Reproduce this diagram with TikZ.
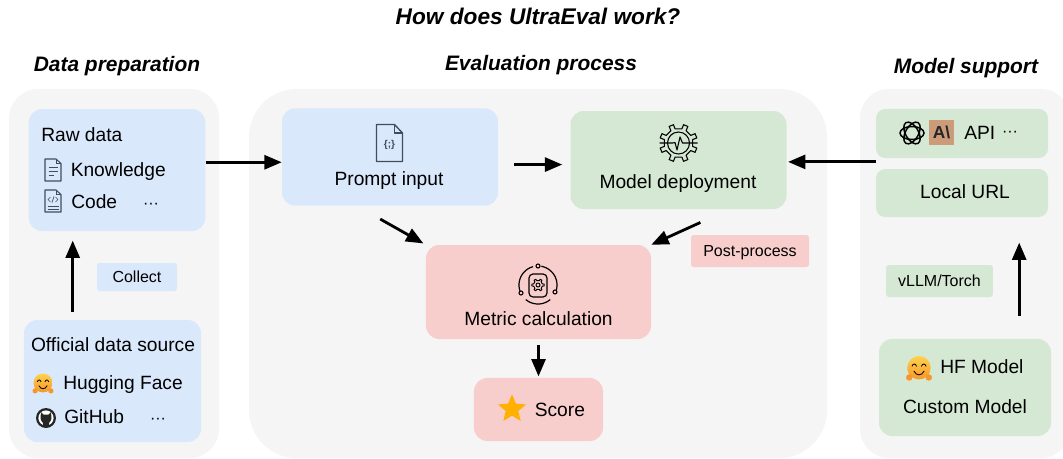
\documentclass[tikz,border=0pt]{standalone}
\usepackage{fontspec}
\setmainfont{Liberation Sans}
\usetikzlibrary{arrows.meta,shapes.geometric}
\definecolor{panelgray}{HTML}{F5F5F5}
\definecolor{boxblue}{HTML}{DAE8FC}
\definecolor{boxgreen}{HTML}{D5E8D4}
\definecolor{boxred}{HTML}{F8CECC}
\definecolor{docslate}{HTML}{3F4D5E}
\definecolor{hugyellow}{HTML}{FFD34E}
\definecolor{hugorange}{HTML}{F7962A}
\definecolor{claudetan}{HTML}{CC9B7A}
\definecolor{staramber}{HTML}{FFB000}
\tikzset{
  panel/.style={fill=panelgray,rounded corners=#1,inner sep=0pt},
  card/.style={rounded corners=10pt,inner sep=0pt},
  tag/.style={rounded corners=2pt,inner sep=0pt,text height=10pt,text depth=1.4pt,font=\fontsize{12}{14}\selectfont},
  label/.style={inner sep=0pt,font=\fontsize{14.4}{17}\selectfont},
  dots/.style={inner sep=0pt,font=\fontsize{12}{14}\selectfont},
  head/.style={inner sep=0pt,font=\fontsize{15.7}{18}\selectfont\bfseries\itshape},
  arr/.style={-{Stealth[length=13pt,width=10.5pt,inset=0pt]},line width=2.1pt},
  hugface/.pic={
    \shade[top color=hugyellow,bottom color=hugorange] (0,-1) circle (9);
    \draw[line width=.6pt] (-5.5,-2) .. controls (-4.5,-4.5) and (-2.8,-4.5) .. (-1.8,-2);
    \draw[line width=.6pt] (1.8,-2) .. controls (2.8,-4.5) and (4.5,-4.5) .. (5.5,-2);
    \draw[line width=.6pt] (-4,1.5) .. controls (-2,5.5) and (2,5.5) .. (4,1.5);
    \fill[hugorange] (-7.5,6.5) circle (2.5);
    \fill[hugorange] (7.5,6.5) circle (2.5);
  },
  paperdoc/.pic={
    \draw[docslate,line width=.8pt,line join=round] (-8,-11) -- (3,-11) -- (8,-6.5) -- (8,11) -- (-8,11) -- cycle;
    \draw[docslate,line width=.7pt] (3,-11) -- (3,-6.5) -- (8,-6.5);
  },
  knowdoc/.pic={
    \pic {paperdoc};
    \draw[docslate,line width=.7pt] (-4.5,-3) -- (4.5,-3);
    \draw[docslate,line width=.7pt] (-4.5,1) -- (4.5,1);
    \draw[docslate,line width=.7pt] (-4.5,5) -- (1,5);
  },
  codedoc/.pic={
    \pic {paperdoc};
    \draw[docslate,line width=.5pt] (-2.5,-4) -- (-5,-1.5) -- (-2.5,1);
    \draw[docslate,line width=.5pt] (2.5,-4) -- (5,-1.5) -- (2.5,1);
    \draw[docslate,line width=.5pt] (1,-4.5) -- (-1,1.5);
    \draw[docslate,line width=.6pt] (-5.5,5) -- (5.5,5);
    \draw[docslate,line width=.6pt] (-5.5,8) -- (5.5,8);
  },
  promptdoc/.pic={
    \draw[docslate,line width=1pt,line join=round] (-13,-18.5) -- (5,-18.5) -- (13,-10) -- (13,18.5) -- (-13,18.5) -- cycle;
    \draw[docslate,line width=1pt,line join=round] (5,-18.5) -- (5,-10) -- (13,-10);
    \node[inner sep=0pt,text=docslate,font=\fontsize{7.5}{9}\selectfont\bfseries] (braces) at (0,2) {\{;\}};
  },
  gearicon/.pic={
    \draw[line width=.8pt,line join=round] (22.5-9:14.5)
      \foreach \a in {22.5,67.5,...,337.5} { -- (\a-9:14.5) -- (\a-7:19) -- (\a+7:19) -- (\a+9:14.5) } -- cycle;
    \draw[line width=.8pt] (0,0) circle (11);
    \draw[line width=.8pt,line join=round] (-19,0) -- (-6,0) -- (-3.5,-0.5) -- (-1.5,7) -- (1.5,-6) -- (4,0) -- (19,0);
  },
  metricicon/.pic={
    \draw[line width=.9pt] plot[domain=80:-25,samples=24,variable=\t] ({19*cos(\t)},{-19*sin(\t)});
    \draw[line width=.9pt] plot[domain=105:200,samples=24,variable=\t] ({19*cos(\t)},{-19*sin(\t)});
    \draw[line width=.9pt] plot[domain=50:130,samples=24,variable=\t] ({19*cos(\t)},{19*sin(\t)});
    \filldraw[fill=boxred,line width=.8pt] (0,-19) circle (2);
    \filldraw[fill=boxred,line width=.8pt] (-17,8) circle (2);
    \filldraw[fill=boxred,line width=.8pt] (17,7) circle (2);
    \draw[line width=.9pt,rounded corners=3pt] (-9,-11) rectangle (9,12);
    \draw[line width=.7pt,line join=round] (-14:4.5)
      \foreach \a in {0,60,...,300} { -- (\a-14:4.5) -- (\a-9:6.2) -- (\a+9:6.2) -- (\a+14:4.5) } -- cycle;
    \draw[line width=.7pt] (0,0) circle (2);
  },
  octocat/.pic={
    \fill[black!85] (0,0) circle (10);
    \fill[white] (0,0) circle (7.6);
    \fill[black!85] (-5,-6) -- (-2.5,-3.5) -- (2.5,-3.5) -- (5,-6) -- (5.5,0) .. controls (5,4) and (3,4) .. (3,5) -- (3,8) -- (-3,8) -- (-3,5) .. controls (-3,4) and (-5,4) .. (-5.5,0) -- cycle;
  },
  knot/.pic={
    \foreach \a in {0,60,120} {
      \draw[line width=1.1pt,rotate=\a] (0,0) ellipse [x radius=12,y radius=6.5];
    }
  }
}
\begin{document}
\begin{tikzpicture}[x=0.75pt,y=-0.75pt]
\useasboundingbox (0,0) rectangle (1063,458);

\node[panel=22pt,minimum width=157.5pt,minimum height=277pt] (datapanel) at (114,273.5) {};
\node[panel=36pt,minimum width=433.5pt,minimum height=277pt] (evalpanel) at (538,273.5) {};
\node[panel=22pt,minimum width=157.5pt,minimum height=277pt] (modelpanel) at (965,273.5) {};

\node[head,font=\fontsize{17}{20}\selectfont\bfseries\itshape] (title) at (538,16) {How does UltraEval work?};
\node[head] (datahead) at (117,66) {Data preparation};
\node[head] (evalhead) at (541,65) {Evaluation process};
\node[head] (modelhead) at (966,68) {Model support};

% data preparation
\node[card,fill=boxblue,minimum width=132.4pt,minimum height=91.5pt] (raw) at (117,170) {};
\node[card,fill=boxblue,minimum width=132.8pt,minimum height=91.5pt] (official) at (112.5,381) {};
\node[tag,fill=boxblue,minimum width=60pt,minimum height=21pt] (collect) at (137,277) {Collect};

\node[label,anchor=west] (rawtext) at (41,135) {Raw data};
\pic at (53,170) {knowdoc};
\node[label,anchor=west] (knowledge) at (70.5,171.5) {Knowledge};
\pic at (53,201) {codedoc};
\node[label,anchor=west] (code) at (71,201.5) {Code};
\node[dots] (rawdots) at (151,205.5) {···};
\node[label] (officialtext) at (113,345) {Official data source};
\pic[scale=1.05] at (43,384) {hugface};
\node[label,anchor=west] (hugging) at (63,384.5) {Hugging Face};
\pic at (46,418) {octocat};
\node[label,anchor=west] (github) at (64,417) {GitHub};
\node[dots] (officialdots) at (158,420.5) {···};

% evaluation process
\node[card,fill=boxblue,minimum width=162pt,minimum height=73pt] (prompt) at (390,157) {};
\node[card,fill=boxgreen,minimum width=162pt,minimum height=73.5pt] (model) at (678.5,160) {};
\node[card,fill=boxred,minimum width=168.8pt,minimum height=70.5pt] (metric) at (538.5,292) {};
\node[card,fill=boxred,minimum width=96.8pt,minimum height=47.3pt] (score) at (538.5,409.5) {};
\node[tag,fill=boxred,minimum width=88.5pt,minimum height=24pt] (post) at (750,251) {Post-process};

\pic at (389.5,143) {promptdoc};
\node[label] (prompttext) at (389,181) {Prompt input};
\pic at (678.5,143) {gearicon};
\node[label] (modeltext) at (678,184) {Model deployment};
\pic at (538,285) {metricicon};
\node[label] (metrictext) at (538.5,319) {Metric calculation};
\node[star,star points=5,star point ratio=2.2,fill=staramber,inner sep=0pt,minimum size=22pt] (star) at (512,409) {};
\node[label,anchor=west] (scoretext) at (534.5,410) {Score};

% model support
\node[card,rounded corners=7pt,fill=boxgreen,minimum width=129pt,minimum height=36.8pt] (api) at (962,133.5) {};
\node[card,rounded corners=7pt,fill=boxgreen,minimum width=129pt,minimum height=36pt] (local) at (962,193) {};
\node[tag,fill=boxgreen,minimum width=80pt,minimum height=24pt] (vllm) at (939.5,281) {vLLM/Torch};
\node[card,fill=boxgreen,minimum width=129pt,minimum height=72.8pt] (hf) at (965,387.5) {};

\pic at (912,133) {knot};
\node[fill=claudetan,inner sep=0pt,minimum size=18.8pt,text=black!85,font=\fontsize{13}{15}\selectfont\bfseries] (claude) at (941.5,132.5) {A\textbackslash};
\node[label,anchor=west] (apitext) at (964,133) {API};
\node[dots] (apidots) at (1010,133.5) {···};
\node[label] (localtext) at (965,192) {Local URL};
\pic[scale=1.3] at (919,369) {hugface};
\node[label,anchor=west] (hftext) at (940,367) {HF Model};
\node[label] (customtext) at (965,407) {Custom Model};

\draw[arr,shorten <=6pt,shorten >=7pt] (official.123) -- (official.123 |- raw.south);
\draw[arr] (raw.5) -- (raw.5 -| prompt.west);
\draw[arr,shorten <=12pt,shorten >=6pt] (prompt.-4) -- (prompt.-4 -| model.west);
\draw[arr,shorten >=1pt] (api.west |- model.-1) -- (model.-1);
\draw[arr,shorten <=20pt,shorten >=2pt] (prompt.236) -- (metric.north west);
\draw[arr,shorten <=24pt] (model.-44) -- (metric.north east);
\draw[arr,shorten <=4pt,shorten >=1pt] (metric.south) -- (score.north);
\draw[arr,shorten <=17pt,shorten >=19pt] (hf.42.5) -- (hf.42.5 |- local.south);
\end{tikzpicture}
\end{document}
